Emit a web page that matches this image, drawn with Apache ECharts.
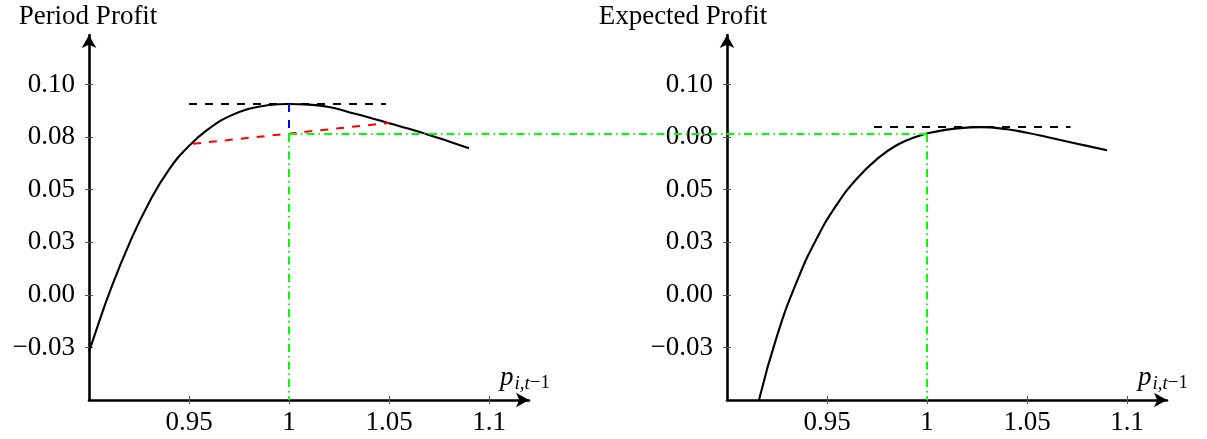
<!DOCTYPE html>
<html><head><meta charset="utf-8">
<script src="https://cdn.jsdelivr.net/npm/echarts@6/dist/echarts.min.js"></script>
<style>html,body{margin:0;padding:0;background:#fff}#c{width:1207px;height:439px}</style>
</head><body><div id="c"></div>
<script>
// ---- data ----
const periodProfitCurve = [[0.9,-0.027],[0.905,-0.013],[0.91,0.0005],[0.92,0.024],[0.93,0.0438],[0.94,0.0595],[0.95,0.0708],[0.96,0.079],[0.97,0.0848],[0.98,0.0884],[0.99,0.0902],[1.0,0.0907],[1.01,0.0904],[1.02,0.0893],[1.03,0.0868],[1.04,0.0843],[1.05,0.0816],[1.06,0.0789],[1.07,0.076],[1.08,0.0729],[1.09,0.0697]];
const expectedProfitCurve = [[0.916,-0.05],[0.925,-0.0195],[0.935,0.0065],[0.945,0.027],[0.955,0.043],[0.965,0.0553],[0.975,0.0645],[0.985,0.0712],[0.995,0.0753],[1.005,0.0777],[1.015,0.0791],[1.027,0.0797],[1.04,0.0787],[1.05,0.077],[1.06,0.075],[1.07,0.0729],[1.08,0.0708],[1.09,0.0687]];
const periodPeakLine = [[0.95,0.0907],[1.0485,0.0907]];
const periodSecant = [[0.952,0.0718],[1.05,0.0817]];
const periodDrop = [[1.0,0.0907],[1.0,0.0765]];
const expectedPeakLine = [[0.9735,0.0798],[1.0718,0.0798]];
const currentPrice = 1.0;
const currentProfit = 0.0765;
const xTickValues = [0.95,1,1.05,1.1];
const xTickLabels = ['0.95','1','1.05','1.1'];
const yTickValues = [-0.025,0,0.025,0.05,0.075,0.1];
const yTickLabels = ['\u22120.03','0.00','0.03','0.05','0.08','0.10'];
const xMin = 0.9, xMax = 1.12, yMin = -0.05, yMax = 0.1235;
const titles = ['Period Profit','Expected Profit'];

// ---- layout ----
const FONT = "'Liberation Serif','DejaVu Serif',serif";
const FS = 27;
const grids = [{left:89,top:35,width:440,height:365},{left:727,top:35,width:440,height:365}];
// a hidden grid spanning both panels with the same scale, for the connecting line
const spanWidth = grids[1].left + grids[1].width - grids[0].left;
const spanMax = xMin + (xMax - xMin) * spanWidth / grids[0].width;
const panelShift = (grids[1].left - grids[0].left) / grids[0].width * (xMax - xMin);
const allGrids = grids.concat([{left:grids[0].left,top:grids[0].top,width:spanWidth,height:grids[0].height}]);

function lookup(vals, labels){
  return function(v){ const i = vals.findIndex(t => Math.abs(t - v) < 1e-9); return i < 0 ? '' : labels[i]; };
}
const xFmt = lookup(xTickValues, xTickLabels);
const yFmt = lookup(yTickValues, yTickLabels);

const xName = '{p|p}{s|i,t}{r|\u22121}';
const nameRich = {
  p:{fontFamily:FONT,fontSize:27,fontStyle:'italic',color:'#000',lineHeight:28,verticalAlign:'top'},
  s:{fontFamily:FONT,fontSize:19,fontStyle:'italic',color:'#000',lineHeight:20,padding:[10,0,0,1],verticalAlign:'top'},
  r:{fontFamily:FONT,fontSize:19,color:'#000',lineHeight:20,padding:[10,0,0,0],verticalAlign:'top'}
};

const xAxes = [], yAxes = [];
[0,1].forEach(g => {
  xAxes.push({type:'value',gridIndex:g,min:xMin,max:xMax,interval:0.05,position:'bottom',
    axisLine:{onZero:false,lineStyle:{color:'#000',width:2.6},symbol:['none','arrow'],symbolSize:[11,13]},
    axisTick:{show:true,inside:false,length:4,lineStyle:{color:'#555',width:1},customValues:xTickValues},
    axisLabel:{customValues:xTickValues,formatter:xFmt,fontFamily:FONT,fontSize:FS,color:'#000',margin:9},
    splitLine:{show:false},
    name:xName,nameLocation:'end',nameGap:-29,
    nameTextStyle:{align:'left',verticalAlign:'bottom',padding:[0,0,8,0],rich:nameRich}
  });
  yAxes.push({type:'value',gridIndex:g,min:yMin,max:yMax,interval:0.025,position:'left',
    axisLine:{onZero:false,lineStyle:{color:'#000',width:2.6},symbol:['none','arrow'],symbolSize:[11,13]},
    axisTick:{show:true,inside:false,length:4,lineStyle:{color:'#555',width:1},customValues:yTickValues},
    axisLabel:{customValues:yTickValues,formatter:yFmt,fontFamily:FONT,fontSize:FS,color:'#000',margin:14,padding:[6,0,0,0]},
    splitLine:{show:false}
  });
});
[0,1].forEach(g => {
  xAxes.push({type:'value',gridIndex:g,min:xMin,max:xMax,interval:0.05,position:'bottom',
    axisLine:{show:false,onZero:false},axisLabel:{show:false},splitLine:{show:false},
    axisTick:{show:true,inside:true,length:4,lineStyle:{color:'#555',width:1},customValues:xTickValues}});
  yAxes.push({type:'value',gridIndex:g,min:yMin,max:yMax,interval:0.025,position:'left',
    axisLine:{show:false,onZero:false},axisLabel:{show:false},splitLine:{show:false},
    axisTick:{show:true,inside:true,length:4,lineStyle:{color:'#555',width:1},customValues:yTickValues}});
});
// hidden spanning axes (index 4)
xAxes.push({type:'value',gridIndex:2,min:xMin,max:spanMax,show:false,axisLine:{onZero:false},splitLine:{show:false}});
yAxes.push({type:'value',gridIndex:2,min:yMin,max:yMax,show:false,axisLine:{onZero:false},splitLine:{show:false}});

function line(data, g, color, width, type, extra){
  return Object.assign({type:'line',xAxisIndex:g,yAxisIndex:g,data:data,showSymbol:false,symbol:'none',
    lineStyle:{color:color,width:width,type:type},silent:true,animation:false}, extra||{});
}
const DASH = [8,8], DASHDOT = [8,4,1.5,4], GREEN = '#00ff00';

const series = [
  line(periodProfitCurve,0,'#000',2.1,'solid',{smooth:true,z:3}),
  line(periodPeakLine,0,'#000',2,DASH),
  line(periodSecant,0,'#ff0000',2,DASH,{z:4}),
  line(periodDrop,0,'#0000ff',2,DASH,{z:4}),
  line([[currentPrice,currentProfit],[currentPrice,yMin]],0,GREEN,2,DASHDOT,{z:5}),
  line([[currentPrice,currentProfit],[currentPrice+panelShift,currentProfit]],4,GREEN,2,DASHDOT,{z:5}),
  line(expectedProfitCurve,1,'#000',2.1,'solid',{smooth:true,z:3}),
  line(expectedPeakLine,1,'#000',2,DASH),
  line([[currentPrice,currentProfit],[currentPrice,yMin]],1,GREEN,2,DASHDOT,{z:5})
];

const chart = echarts.init(document.getElementById('c'), null, {renderer:'canvas'});
chart.setOption({
  animation:false,
  backgroundColor:'#fff',
  grid:allGrids,
  xAxis:xAxes,
  yAxis:yAxes,
  series:series,
  graphic:[
    {type:'text',x:88,y:3,style:{text:titles[0],fontFamily:FONT,fontSize:FS,fill:'#000',align:'center',verticalAlign:'top'}},
    {type:'text',x:683,y:3,style:{text:titles[1],fontFamily:FONT,fontSize:FS,fill:'#000',align:'center',verticalAlign:'top'}}
  ]
});
</script></body></html>
